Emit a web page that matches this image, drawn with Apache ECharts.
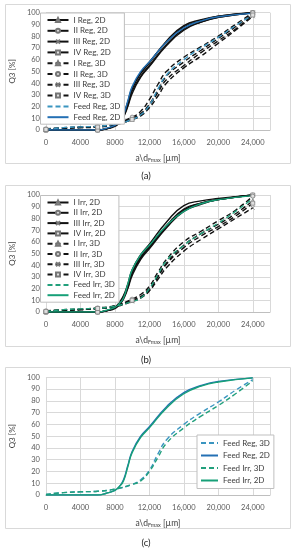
<!DOCTYPE html>
<html><head><meta charset="utf-8">
<script src="https://cdn.jsdelivr.net/npm/echarts@6/dist/echarts.min.js"></script>
<style>html,body{margin:0;padding:0;background:#fff}#c{width:292px;height:550px}</style>
</head><body><div id="c"></div>
<script>
// x positions of the read points
const X2D = [0, 6000, 7000, 8000, 8500, 9000, 9500, 10000, 11000, 12000, 14000, 16000, 18000, 20000, 24000];
const X3D = [0, 2000, 4000, 6000, 8000, 10000, 11000, 12000, 13000, 14000, 16000, 18000, 20000, 22000, 24000];
const X_TICKS = [0, 4000, 8000, 12000, 16000, 20000, 24000];
const Y_TICKS = [0, 10, 20, 30, 40, 50, 60, 70, 80, 90, 100];
const CAPTIONS = ['(a)', '(b)', '(c)'];

// panel (a)
const I_REG_2D   = [0,0,1,4,8,14,24,36,49,58,75,88,93,97,100];
const II_REG_2D  = [0,0,1,4,7,12,21,33,46,55,73,86,92,96,100];
const III_REG_2D = [0,0,1,3,6,11,20,31,45,54,72,85,92,96,100];
const IV_REG_2D  = [0,0,1,4,7,13,23,35,48,57,76,89,94,97,100];
const FEED_REG_2D= [0,0,1.5,4,7,13,25,37,50,58,75,87,93,96.5,99.5];
const I_REG_3D   = [0.5,1.5,2.5,3,5,10,14,22,34,46,58,68,78,88,99];
const II_REG_3D  = [1,2,2.5,3,5.5,11,16,26,39,50,62,71,80,90,100];
const III_REG_3D = [0.5,1.5,2,3,4.5,9,12,19,29,40,53,63,74,85,97];
const IV_REG_3D  = [0.5,1.5,2,2.5,4.5,9,13,21,32,43,55,66,76,86,98];
const FEED_REG_3D= [0.5,2,2.7,3.2,5,9,13,21,35,47,60,70,79,89,98];
// panel (b)
const I_IRR_2D   = [0,0,1,4,8,14,24,36,49,58,77,91,95,97,100];
const II_IRR_2D  = [0,0,1,4,7,12,21,33,46,55,73,87,93,96,100];
const III_IRR_2D = [0,0,1,4,7,13,22,34,47,56,74,88,93,96,100];
const IV_IRR_2D  = [0,0,1,3,6,11,20,31,45,54,72,86,92,96,100];
const FEED_IRR_2D= [0,0,1.5,4,7,12,24,36,49,57,74,86,92.5,96,99.5];
const I_IRR_3D   = [0.5,1.5,2,3,5,10,13,20,31,42,57,67,75,84,95];
const II_IRR_3D  = [1,2,2.5,3.5,5.5,11,15,22,34,45,60,69,78,87,99];
const III_IRR_3D = [0.5,1.5,2,3,4.5,9,12,18,28,38,52,62,71,80,89];
const IV_IRR_3D  = [0.5,1.5,2,3,5,10,13,19,30,41,55,65,73,82,93];
const FEED_IRR_3D= [0.5,2,2.7,3.2,5,9,12,20,32,44,57,67,76,86,97];

const FONT = 'Lato, "Open Sans", sans-serif';
const BLACK = '#111';
const REG2 = '#2470B4', REG3 = '#3A95C0', IRR2 = '#17A078', IRR3 = '#22A07C';
const SYM = {
  tri: 'triangle', cir: 'circle', x: 'path://M0,0L10,10M10,0L0,10', sq: 'rect'
};
const MARK2 = [0, 6000, 24000];
const MARK3 = [0, 6000, 10000, 24000];

function mk(name, xs, ys, gi, color, dashed, sym, marks) {
  const data = ys.map((y, i) => (sym && marks.includes(xs[i])) ? [xs[i], y] : {value: [xs[i], y], symbol: 'none'});
  return {
    type: 'line', name, xAxisIndex: gi, yAxisIndex: gi, data,
    smooth: 0.5,
    symbol: sym || 'none', symbolSize: 4, showSymbol: true,
    lineStyle: {color, width: 1.4, type: dashed ? [5, 3] : 'solid'},
    itemStyle: {color: '#e0e0e0', borderColor: '#777', borderWidth: 0.7},
    emphasis: {disabled: true}, animation: false
  };
}

const series = [
  mk('I Reg, 2D', X2D, I_REG_2D, 0, BLACK, false, SYM.tri, MARK2),
  mk('II Reg, 2D', X2D, II_REG_2D, 0, BLACK, false, SYM.cir, MARK2),
  mk('III Reg, 2D', X2D, III_REG_2D, 0, BLACK, false, SYM.x, MARK2),
  mk('IV Reg, 2D', X2D, IV_REG_2D, 0, BLACK, false, SYM.sq, MARK2),
  mk('I Reg, 3D', X3D, I_REG_3D, 0, BLACK, true, SYM.tri, MARK3),
  mk('II Reg, 3D', X3D, II_REG_3D, 0, BLACK, true, SYM.cir, MARK3),
  mk('III Reg, 3D', X3D, III_REG_3D, 0, BLACK, true, SYM.x, MARK3),
  mk('IV Reg, 3D', X3D, IV_REG_3D, 0, BLACK, true, SYM.sq, MARK3),
  mk('Feed Reg, 3D', X3D, FEED_REG_3D, 0, REG3, true, null, []),
  mk('Feed Reg, 2D', X2D, FEED_REG_2D, 0, REG2, false, null, []),

  mk('I Irr, 2D', X2D, I_IRR_2D, 1, BLACK, false, SYM.tri, MARK2),
  mk('II Irr, 2D', X2D, II_IRR_2D, 1, BLACK, false, SYM.cir, MARK2),
  mk('III Irr, 2D', X2D, III_IRR_2D, 1, BLACK, false, SYM.x, MARK2),
  mk('IV Irr, 2D', X2D, IV_IRR_2D, 1, BLACK, false, SYM.sq, MARK2),
  mk('I Irr, 3D', X3D, I_IRR_3D, 1, BLACK, true, SYM.tri, MARK3),
  mk('II Irr, 3D', X3D, II_IRR_3D, 1, BLACK, true, SYM.cir, MARK3),
  mk('III Irr, 3D', X3D, III_IRR_3D, 1, BLACK, true, SYM.x, MARK3),
  mk('IV Irr, 3D', X3D, IV_IRR_3D, 1, BLACK, true, SYM.sq, MARK3),
  mk('Feed Irr, 3D', X3D, FEED_IRR_3D, 1, IRR3, true, null, []),
  mk('Feed Irr, 2D', X2D, FEED_IRR_2D, 1, IRR2, false, null, []),

  mk('Feed Reg, 3D', X3D, FEED_REG_3D, 2, REG3, true, null, []),
  mk('Feed Reg, 2D', X2D, FEED_REG_2D, 2, REG2, false, null, []),
  mk('Feed Irr, 3D', X3D, FEED_IRR_3D, 2, IRR3, true, null, []),
  mk('Feed Irr, 2D', X2D, FEED_IRR_2D, 2, IRR2, false, null, [])
];

const GRIDS = [
  {left: 40, right: 22, top: 12.7, height: 117.3},
  {left: 40, right: 22, top: 195, height: 117},
  {left: 40, right: 22, top: 377.3, height: 117.7}
];
const FRAMES = [[5, 4, 285, 159], [5, 185, 285, 161], [5, 367, 285, 161]];
const CAP_Y = [176, 360, 543];

function xAxis(i) {
  return {
    type: 'value', gridIndex: i, min: 0, max: 26000, interval: 4000,
    name: 'a\\d{s|Fmax} [µm]', nameLocation: 'middle', nameGap: 24,
    nameTextStyle: {fontFamily: FONT, fontSize: 8.5, color: '#404040',
      rich: {s: {fontFamily: FONT, fontSize: 5.5, color: '#404040', verticalAlign: 'bottom', padding: [3, 0, 0, 0]}}},
    axisLine: {show: true, lineStyle: {color: '#bfbfbf', width: 1}},
    axisTick: {show: false},
    axisLabel: {fontFamily: FONT, fontSize: 7.5, color: '#595959', margin: 9,
      formatter: v => X_TICKS.includes(v) ? (v >= 10000 ? v.toLocaleString('en-US') : String(v)) : ''},
    splitLine: {show: true, lineStyle: {color: '#d9d9d9', width: 1}}
  };
}
function yAxis(i) {
  return {
    type: 'value', gridIndex: i, min: 0, max: 100, interval: 10,
    name: 'Q3 [%]', nameLocation: 'middle', nameGap: 23,
    nameTextStyle: {fontFamily: FONT, fontSize: 8, color: '#404040'},
    axisLine: {show: false}, axisTick: {show: false},
    axisLabel: {fontFamily: FONT, fontSize: 7.5, color: '#595959', margin: 6,
      formatter: v => Y_TICKS.includes(v) ? String(v) : ''},
    splitLine: {show: true, lineStyle: {color: '#d9d9d9', width: 1}}
  };
}
function legendItem(s) {
  return s.symbol === 'none'
    ? {name: s.name, itemStyle: {color: 'rgba(0,0,0,0)', borderColor: 'rgba(0,0,0,0)', borderWidth: 0}}
    : {name: s.name};
}
function legend(list, left, top, gap, iw, pad) {
  return {
    data: list.map(legendItem), orient: 'vertical', left, top, itemGap: gap, itemWidth: iw, itemHeight: 5,
    padding: pad, backgroundColor: '#fff', borderColor: '#bfbfbf', borderWidth: 1, borderRadius: 0,
    textStyle: {fontFamily: FONT, fontSize: 8, color: '#404040', lineHeight: 10},
    selectedMode: false
  };
}

const chart = echarts.init(document.getElementById('c'), null, {renderer: 'canvas'});
chart.setOption({
  animation: false,
  grid: GRIDS,
  xAxis: [xAxis(0), xAxis(1), xAxis(2)],
  yAxis: [yAxis(0), yAxis(1), yAxis(2)],
  legend: [
    legend(series.slice(0, 10), 40.5, 13, 0.8, 21, [2, 4, 2, 6]),
    legend(series.slice(10, 20), 40.5, 195.5, 0.3, 21, [2, 4, 2, 6]),
    legend(series.slice(20, 24), 197, 435, 2.5, 17, [3, 4, 3, 3])
  ],
  graphic: FRAMES.map(f => ({type: 'rect', silent: true, z: -10,
    shape: {x: f[0] + 0.5, y: f[1] + 0.5, width: f[2], height: f[3]},
    style: {fill: 'none', stroke: '#d9d9d9', lineWidth: 1}}))
    .concat(CAPTIONS.map((t, i) => ({type: 'text', silent: true, x: 146, y: CAP_Y[i],
      style: {text: t, fontFamily: FONT, fontSize: 9.5, fill: '#222', align: 'center', verticalAlign: 'middle'}}))),
  series
});
</script>
</body></html>
